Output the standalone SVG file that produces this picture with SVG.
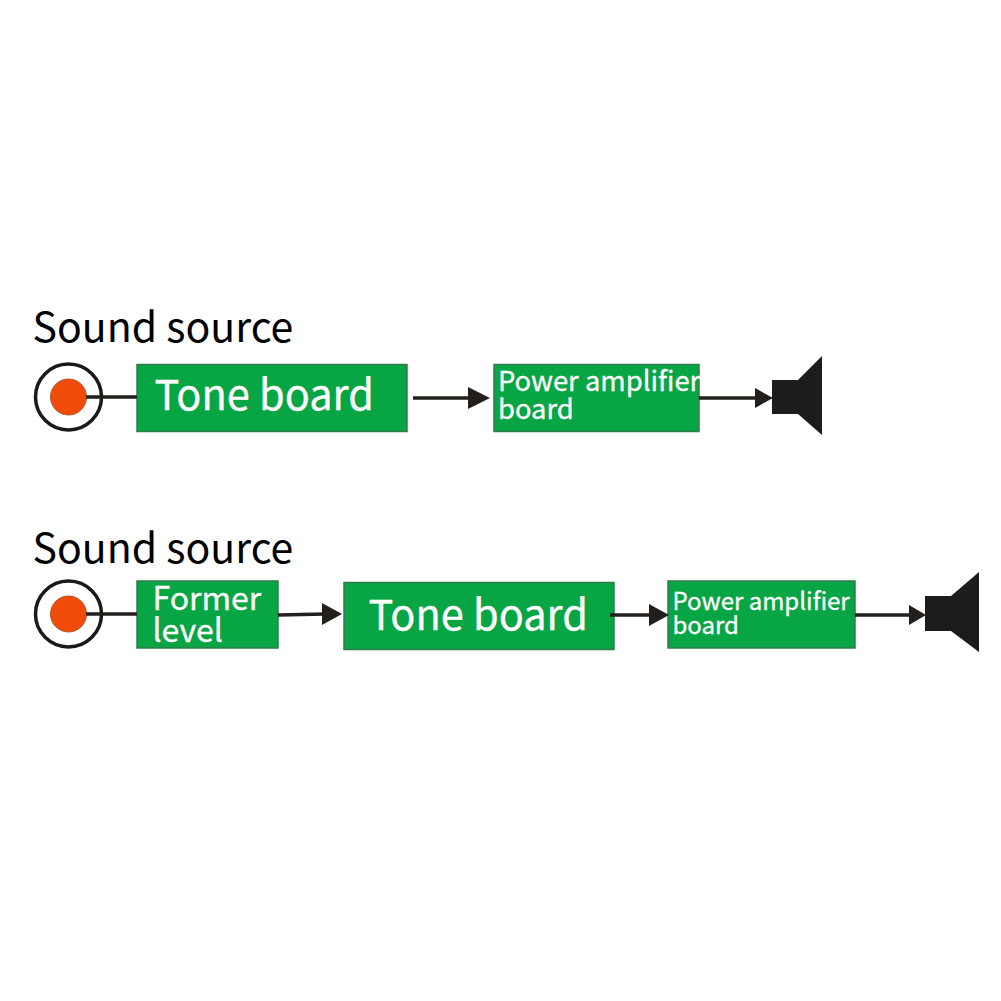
<svg xmlns="http://www.w3.org/2000/svg" width="1001" height="1001" viewBox="0 0 1001 1001">
<style>
text{font-family:"Noto Sans CJK SC","Noto Sans",sans-serif}
.t{fill:#000;font-size:41px}
.w{fill:#fff;stroke:#fff;stroke-width:.3}
.b{fill:#08a544;stroke:#2f7d4d;stroke-width:1.5}
.ring{fill:#fff;stroke:#1a1a1a;stroke-width:3.500}
.dot{fill:#f04b08;stroke:#b9562e;stroke-width:1}
.l{stroke:#231f1c;stroke-width:3.500;fill:none}
.h{fill:#231f1c}
.s{fill:#1c1c1c}
</style>
<rect width="1001" height="1001" fill="#fff"/>
<g id="label-1"><text class="t" x="32.500" y="342">Sound source</text></g>
<g id="label-2"><text class="t" x="32.500" y="563">Sound source</text></g>
<g id="source-1"><circle class="ring" cx="68.500" cy="397" r="33"/><circle class="dot" cx="68.500" cy="397" r="18"/></g>
<g id="tone-1"><rect class="b" x="137" y="364.500" width="270" height="67"/><text class="w" x="154.500" y="410" font-size="41.500">Tone board</text></g>
<g id="power-1"><rect class="b" x="494" y="364.500" width="205" height="67"/><text class="w" font-size="27.400"><tspan x="498" y="391">Power amplifier</tspan><tspan x="498" y="419">board</tspan></text></g>
<g id="speaker-1"><path class="s" d="M772 380H798L822 356V435L798 414H772Z"/></g>
<g id="source-2"><circle class="ring" cx="68.500" cy="614" r="33"/><circle class="dot" cx="68.500" cy="614" r="18"/></g>
<g id="former"><rect class="b" x="137" y="581" width="141" height="67"/><text class="w" font-size="32"><tspan x="152.500" y="610">Former</tspan><tspan x="152.500" y="642">level</tspan></text></g>
<g id="tone-2"><rect class="b" x="344" y="582.500" width="270" height="67"/><text class="w" x="368.500" y="630" font-size="41.500">Tone board</text></g>
<g id="power-2"><rect class="b" x="668" y="581" width="187" height="67"/><text class="w" font-size="24"><tspan x="672.500" y="610">Power amplifier</tspan><tspan x="672.500" y="634">board</tspan></text></g>
<g id="speaker-2"><path class="s" d="M925 596H951L979 572V652L951 631H925Z"/></g>
<g id="connectors">
<path class="l" d="M86 397H137"/>
<path class="l" d="M413 398H472"/><path class="h" d="M468 387L490 398L468 409Z"/>
<path class="l" d="M699 398H758"/><path class="h" d="M755 388L773 398L755 408Z"/>
<path class="l" d="M86 614H137"/>
<path class="l" d="M278 615L326 614"/><path class="h" d="M322 603L342 614L322 625Z"/>
<path class="l" d="M610 615H652"/><path class="h" d="M649 604L669 615L649 626Z"/>
<path class="l" d="M855 615H912"/><path class="h" d="M909 605L926 615L909 625Z"/>
</g>
</svg>
